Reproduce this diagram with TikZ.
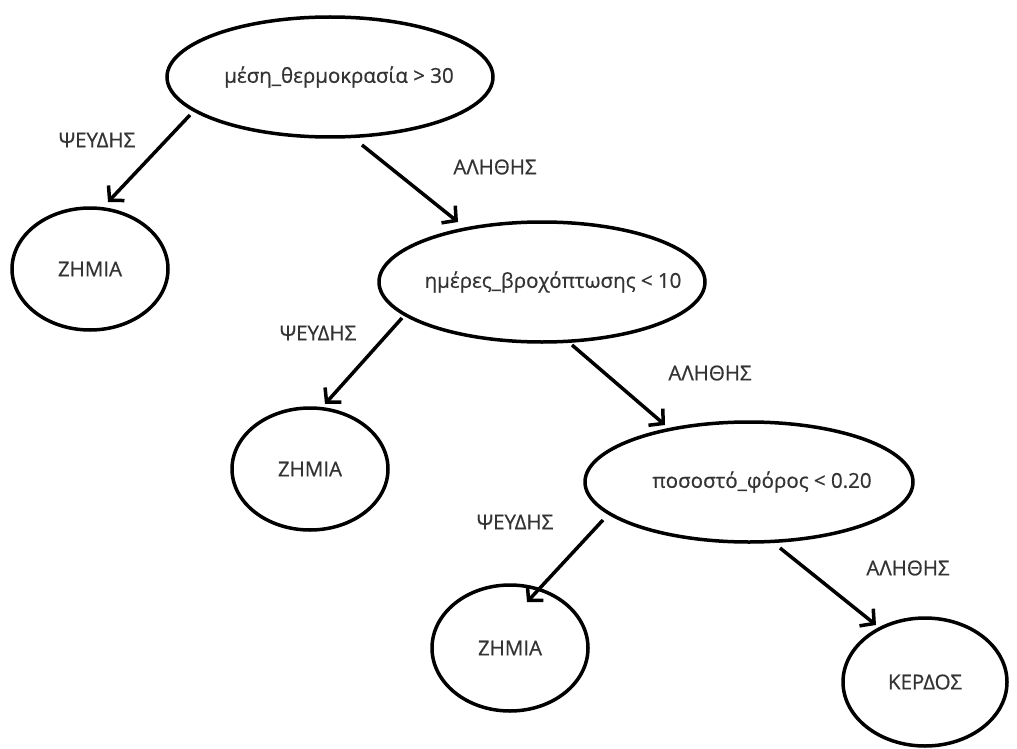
\documentclass[tikz,border=0pt]{standalone}
\usepackage{fontspec}
\setmainfont{Open Sans}[FakeBold=0.6]
\usetikzlibrary{arrows.meta,shapes.geometric}
\tikzset{
  test/.style={draw,ellipse,line width=3.5pt,inner sep=0pt,text=black!80},
  leaf/.style={test},
  branch/.style={line width=3.5pt,-{Straight Barb[length=10pt,width=22pt,line width=3.5pt]}},
  tag/.style={text=black!80},
  every label/.style={text=black!80},
}
\begin{document}
\begin{tikzpicture}[x=1pt,y=-1pt,font=\fontsize{20.5}{24}\selectfont]
\useasboundingbox (0,0) rectangle (1017,749);
\node[test,minimum width=326pt,minimum height=120pt,label={[xshift=9pt]center:μέση\_θερμοκρασία > 30}] (T1) at (330,77) {};
\node[leaf,minimum width=156pt,minimum height=122pt] (Z1) at (90,269) {ΖΗΜΙΑ};
\node[test,minimum width=326pt,minimum height=120pt,label={[xshift=11pt]center:ημέρες\_βροχόπτωσης < 10}] (T2) at (542,282) {};
\node[leaf,minimum width=156pt,minimum height=122pt] (Z2) at (310,469) {ΖΗΜΙΑ};
\node[test,minimum width=328pt,minimum height=120pt,label={[xshift=13pt]center:ποσοστό\_φόρος < 0.20}] (T3) at (749,482) {};
\node[leaf,minimum width=156pt,minimum height=126pt] (Z3) at (510,648) {ΖΗΜΙΑ};
\node[leaf,minimum width=164pt,minimum height=128pt] (K1) at (925,682) {ΚΕΡΔΟΣ};
\coordinate (a1) at (190,115);
\coordinate (b1) at (108,202);
\coordinate (a2) at (362,145);
\coordinate (b2) at (458,222);
\coordinate (a3) at (402,318);
\coordinate (b3) at (325,404);
\coordinate (a4) at (572,345);
\coordinate (b4) at (665,425);
\coordinate (a5) at (603,520);
\coordinate (b5) at (527,602);
\coordinate (a6) at (780,548);
\coordinate (b6) at (876,625);
\foreach \s/\e in {a1/b1,a2/b2,a3/b3,a4/b4,a5/b5,a6/b6}
	\draw[branch] (\s) -- (\e);
\node[tag] (f1) at (97,140) {ΨΕΥΔΗΣ};
\node[tag] (t1) at (495,167) {ΑΛΗΘΗΣ};
\node[tag] (f2) at (318,333) {ΨΕΥΔΗΣ};
\node[tag] (t2) at (710,373) {ΑΛΗΘΗΣ};
\node[tag] (f3) at (515,522) {ΨΕΥΔΗΣ};
\node[tag] (t3) at (908,568) {ΑΛΗΘΗΣ};
\end{tikzpicture}
\end{document}
